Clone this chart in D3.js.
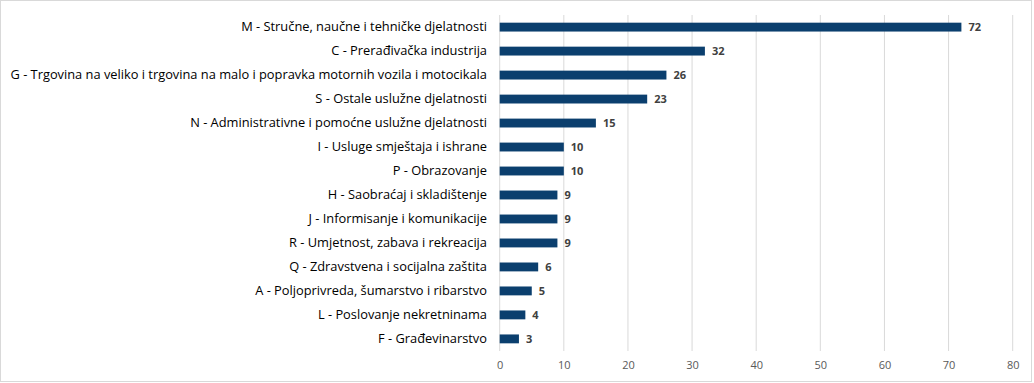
<!DOCTYPE html>
<html><head><meta charset="utf-8">
<script src="https://cdn.jsdelivr.net/npm/d3@7"></script>
<style>body{margin:0;background:#fff}svg{display:block}</style>
</head><body>
<script>
const categories = [
 "M - Stručne, naučne i tehničke djelatnosti",
 "C - Prerađivačka industrija",
 "G - Trgovina na veliko i trgovina na malo i popravka motornih vozila i motocikala",
 "S - Ostale uslužne djelatnosti",
 "N - Administrativne i pomoćne uslužne djelatnosti",
 "I - Usluge smještaja i ishrane",
 "P - Obrazovanje",
 "H - Saobraćaj i skladištenje",
 "J - Informisanje i komunikacije",
 "R - Umjetnost, zabava i rekreacija",
 "Q - Zdravstvena i socijalna zaštita",
 "A - Poljoprivreda, šumarstvo i ribarstvo",
 "L - Poslovanje nekretninama",
 "F - Građevinarstvo"
];
const values = [72, 32, 26, 23, 15, 10, 10, 9, 9, 9, 6, 5, 4, 3];
const xTicks = [0, 10, 20, 30, 40, 50, 60, 70, 80];

const W = 1034, H = 383;
const svg = d3.select("body").append("svg").attr("width", W).attr("height", H);
svg.append("rect").attr("x", 0.5).attr("y", 0.5).attr("width", W - 3).attr("height", H - 2)
  .attr("fill", "#fff").attr("stroke", "#d9d9d9");

const x = d3.scaleLinear().domain([0, 80]).range([499.7, 1012.7]);
const y = d3.scaleBand().domain(categories).range([15, 351]).paddingInner(0.63).paddingOuter(0.32);

// gridlines
svg.append("g").selectAll("line").data(xTicks).join("line")
  .attr("x1", d => x(d)).attr("x2", d => x(d)).attr("y1", 15).attr("y2", 351)
  .attr("stroke", "#d9d9d9").attr("stroke-width", 1);

// x axis labels
const xAxis = d3.axisBottom(x).tickValues(xTicks).tickSize(0).tickPadding(0);
const gx = svg.append("g").attr("transform", "translate(0,361)").call(xAxis);
gx.select(".domain").remove();
gx.selectAll("text").attr("font-family", "Open Sans, sans-serif").attr("font-size", 11)
  .attr("fill", "#595959").attr("dy", "0.71em");

// bars
svg.append("g").selectAll("rect").data(values).join("rect")
  .attr("x", x(0)).attr("y", (d, i) => y(categories[i]))
  .attr("width", d => x(d) - x(0)).attr("height", y.bandwidth())
  .attr("fill", "#0b3f6e");

// value labels
svg.append("g").selectAll("text").data(values).join("text")
  .attr("x", d => x(d) + 7).attr("y", (d, i) => y(categories[i]) + y.bandwidth() / 2)
  .attr("dy", "0.35em").attr("font-family", "Open Sans, sans-serif").attr("font-weight", "bold")
  .attr("font-size", 11).attr("fill", "#404040").text(d => d);

// category labels
const yAxis = d3.axisLeft(y).tickSize(0).tickPadding(0);
const gy = svg.append("g").attr("transform", "translate(487,0)").call(yAxis);
gy.select(".domain").remove();
const labs = gy.selectAll("text").attr("font-family", "Open Sans, sans-serif").attr("font-size", 13)
  .attr("fill", "#000");
// fit font to target width of the longest label (~477px)
let maxW = 0;
labs.each(function(){ maxW = Math.max(maxW, this.getComputedTextLength()); });
const fs = 13 * 477 / maxW;
labs.attr("font-size", fs);
</script>
</body></html>
